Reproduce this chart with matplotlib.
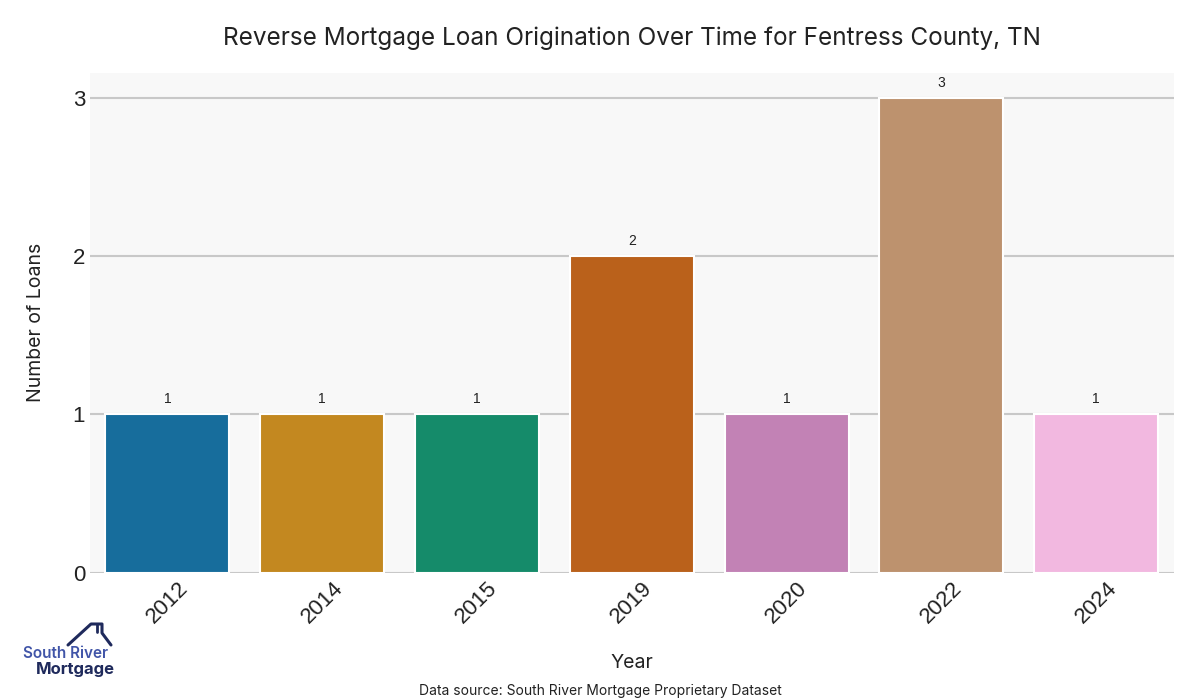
import matplotlib
matplotlib.use("Agg")
import matplotlib.pyplot as plt
import seaborn as sns
from matplotlib.lines import Line2D

# Data
years = ["2012", "2014", "2015", "2019", "2020", "2022", "2024"]
loans = [1, 1, 1, 2, 1, 3, 1]

sns.set_style("whitegrid")
plt.rcParams["font.family"] = ["Inter", "DejaVu Sans"]

fig = plt.figure(figsize=(12, 7), dpi=100)
ax = fig.add_axes([0.075, 0.182, 0.903, 0.714])
ax.set_facecolor("#f8f8f8")

sns.barplot(x=years, y=loans, hue=years, palette="colorblind", legend=False,
            edgecolor="white", linewidth=1.5, ax=ax, zorder=3)
for c in ax.containers:
    ax.bar_label(c, labels=[str(int(v)) for v in c.datavalues], padding=6,
                 fontsize=10, family="Liberation Sans", color="#222222")

ax.set_xlim(-0.5, 6.5)
ax.set_ylim(0, 3.16)
ax.set_yticks([0, 1, 2, 3])
ax.grid(axis="y", color="#c8c8c8", linewidth=1.5, zorder=0)
ax.grid(axis="x", visible=False)
for s in ax.spines.values():
    s.set_visible(False)

ax.tick_params(axis="both", length=0, labelsize=16, colors="#222222")
for lab in ax.get_xticklabels():
    lab.set_rotation(45)
    lab.set_family("Liberation Sans")
for lab in ax.get_yticklabels():
    lab.set_family("Liberation Sans")

ax.set_xlabel("Year", fontsize=14, color="#222222", labelpad=19)
ax.set_ylabel("Number of Loans", fontsize=14, color="#222222", labelpad=20)
ax.set_title("Reverse Mortgage Loan Origination Over Time for Fentress County, TN",
             fontsize=17.5, color="#222222", pad=20)

fig.text(0.5, 0.007, "Data source: South River Mortgage Proprietary Dataset",
         ha="center", fontsize=10, color="#222222")

# Logo
fig.text(0.019, 1 - 658 / 700, "South River", fontsize=11, color="#4155a8",
         fontweight="semibold", va="baseline")
fig.text(0.030, 1 - 674 / 700, "Mortgage", fontsize=12, color="#1f2a5c",
         fontweight="bold", va="baseline")
px = [68, 91, 102, 102, 111]
py = [645, 624, 624, 633, 645]
fig.add_artist(Line2D([x / 1200 for x in px], [1 - y / 700 for y in py],
                      color="#1f2a5c", linewidth=2.2, transform=fig.transFigure))
fig.add_artist(Line2D([97 / 1200, 97 / 1200], [1 - 624 / 700, 1 - 632 / 700],
                      color="#1f2a5c", linewidth=2.0, transform=fig.transFigure))

fig.savefig("out.png", dpi=100, facecolor="white")
